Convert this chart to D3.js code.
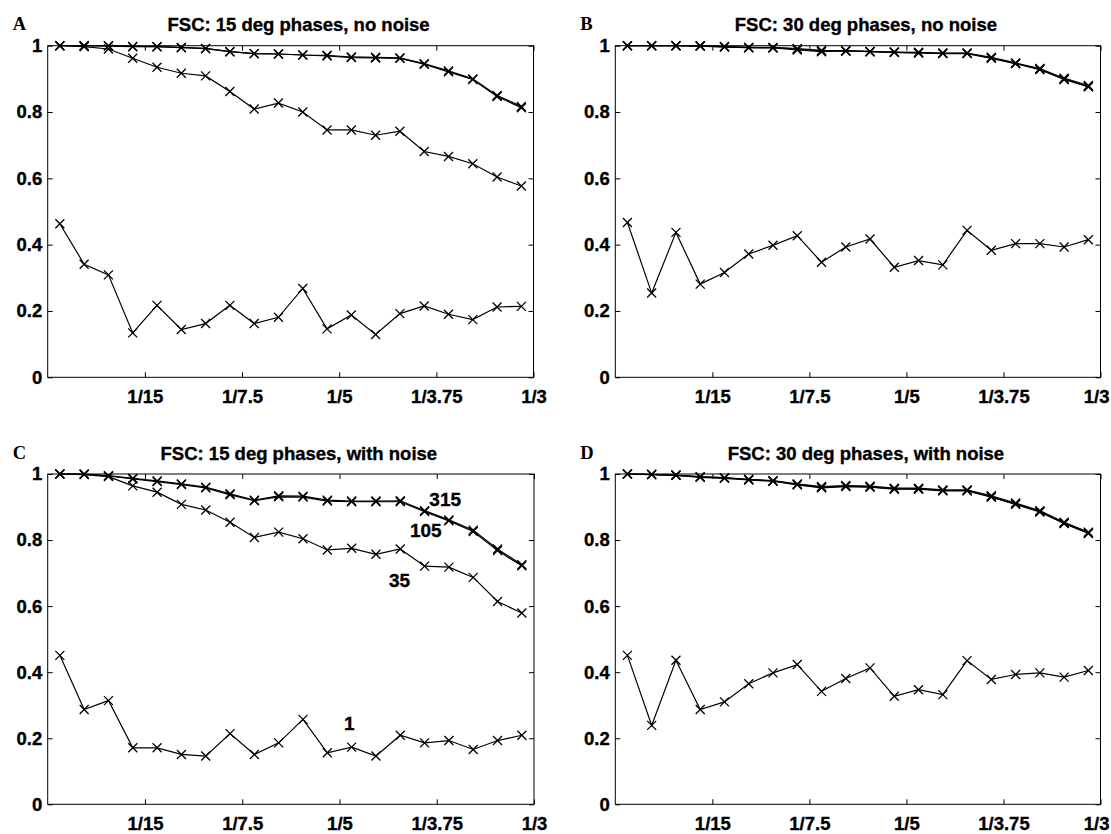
<!DOCTYPE html>
<html>
<head>
<meta charset="utf-8">
<script src="https://cdn.jsdelivr.net/npm/d3@7"></script>
<style>
    body { margin: 0; background: #fff; }
    svg { display: block; }
    .tick text, .title, .curve-label { font-family: "Liberation Sans", Arial, Helvetica, sans-serif; font-weight: bold; fill: #000; stroke: #000; stroke-width: 0.35px; }
    .letter { font-family: "Liberation Serif", "Times New Roman", serif; font-weight: bold; font-size: 18.5px; fill: #000; }
</style>
</head>
<body>
<svg width="1111" height="834"></svg>
<script>
// spatial frequency of each ring (cycles / pixel)
var freq = [0.00833, 0.025, 0.04167, 0.05833, 0.075, 0.09167, 0.10833, 0.125, 0.14167, 0.15833,
            0.175, 0.19167, 0.20833, 0.225, 0.24167, 0.25833, 0.275, 0.29167, 0.30833, 0.325];

var xTicks = [1 / 15, 1 / 7.5, 1 / 5, 1 / 3.75, 1 / 3];
var xTickLabels = ["1/15", "1/7.5", "1/5", "1/3.75", "1/3"];
var yTicks = [0, 0.2, 0.4, 0.6, 0.8, 1];
var yTickLabels = ["0", "0.2", "0.4", "0.6", "0.8", "1"];

// A: 15 deg phases, no noise
var a315 = [1, 1, 1, 0.998, 0.997, 0.995, 0.992, 0.982, 0.976, 0.975, 0.972, 0.971, 0.966, 0.965, 0.963, 0.946, 0.924, 0.9, 0.85, 0.817];
var a105 = [1, 1, 0.999, 0.997, 0.997, 0.994, 0.991, 0.982, 0.976, 0.975, 0.972, 0.969, 0.964, 0.963, 0.962, 0.944, 0.921, 0.898, 0.847, 0.813];
var a35 = [1, 0.997, 0.99, 0.962, 0.935, 0.917, 0.909, 0.862, 0.809, 0.827, 0.8, 0.746, 0.746, 0.73, 0.742, 0.681, 0.666, 0.644, 0.604, 0.577];
var a1 = [0.463, 0.341, 0.309, 0.134, 0.217, 0.144, 0.162, 0.217, 0.162, 0.181, 0.268, 0.146, 0.188, 0.129, 0.192, 0.215, 0.19, 0.174, 0.212, 0.214];

// B: 30 deg phases, no noise
var b315 = [1, 1, 1, 1, 0.998, 0.995, 0.995, 0.991, 0.986, 0.985, 0.983, 0.981, 0.98, 0.978, 0.978, 0.965, 0.948, 0.931, 0.902, 0.88];
var b105 = [1, 1, 1, 0.999, 0.997, 0.994, 0.994, 0.99, 0.984, 0.984, 0.982, 0.98, 0.978, 0.977, 0.977, 0.963, 0.946, 0.929, 0.898, 0.877];
var b35 = [1, 1, 1, 0.999, 0.996, 0.994, 0.993, 0.987, 0.982, 0.984, 0.982, 0.98, 0.978, 0.976, 0.976, 0.962, 0.946, 0.928, 0.899, 0.876];
var b1 = [0.467, 0.254, 0.437, 0.281, 0.316, 0.372, 0.398, 0.427, 0.347, 0.393, 0.417, 0.332, 0.352, 0.339, 0.443, 0.383, 0.403, 0.403, 0.393, 0.415];

// C: 15 deg phases, with noise
var c315 = [1, 1, 0.995, 0.987, 0.979, 0.97, 0.96, 0.94, 0.921, 0.934, 0.933, 0.921, 0.918, 0.918, 0.919, 0.889, 0.861, 0.83, 0.773, 0.725];
var c105 = [1, 0.999, 0.994, 0.985, 0.977, 0.968, 0.958, 0.937, 0.919, 0.931, 0.93, 0.918, 0.916, 0.916, 0.916, 0.886, 0.858, 0.826, 0.768, 0.722];
var c35 = [1, 0.998, 0.992, 0.964, 0.945, 0.908, 0.891, 0.854, 0.808, 0.824, 0.804, 0.77, 0.775, 0.757, 0.773, 0.721, 0.718, 0.687, 0.614, 0.579];
var c1 = [0.451, 0.287, 0.314, 0.171, 0.171, 0.151, 0.146, 0.214, 0.151, 0.186, 0.257, 0.156, 0.173, 0.146, 0.209, 0.186, 0.193, 0.166, 0.193, 0.209];

// D: 30 deg phases, with noise
var d315 = [1, 0.999, 0.997, 0.992, 0.989, 0.984, 0.98, 0.97, 0.962, 0.965, 0.963, 0.957, 0.957, 0.952, 0.952, 0.934, 0.912, 0.889, 0.854, 0.824];
var d105 = [1, 0.998, 0.996, 0.991, 0.988, 0.983, 0.979, 0.968, 0.96, 0.963, 0.961, 0.955, 0.955, 0.95, 0.95, 0.931, 0.909, 0.886, 0.851, 0.821];
var d35 = [1, 0.998, 0.996, 0.99, 0.987, 0.982, 0.978, 0.967, 0.958, 0.962, 0.96, 0.954, 0.954, 0.949, 0.949, 0.93, 0.908, 0.885, 0.85, 0.82];
var d1 = [0.451, 0.239, 0.436, 0.287, 0.31, 0.365, 0.398, 0.423, 0.342, 0.381, 0.413, 0.327, 0.347, 0.332, 0.435, 0.378, 0.393, 0.398, 0.385, 0.405];

// number labels in panel C (data coords)
var cLabels = ["315", "105", "35", "1"];
var cLabelFreq = [0.2616, 0.2483, 0.2339, 0.2031];
var cLabelFsc = [0.903, 0.81, 0.659, 0.225];

var panels = [
    {letter: "A", title: "FSC: 15 deg phases, no noise", series: [a1, a35, a105, a315], x0: 47.7, x1: 533.5, y0: 45.7, y1: 377.3},
    {letter: "B", title: "FSC: 30 deg phases, no noise", series: [b1, b35, b105, b315], x0: 615.3, x1: 1100.5, y0: 45.7, y1: 377.3},
    {letter: "C", title: "FSC: 15 deg phases, with noise", series: [c1, c35, c105, c315], x0: 47.7, x1: 534, y0: 474, y1: 804.3, labels: true},
    {letter: "D", title: "FSC: 30 deg phases, with noise", series: [d1, d35, d105, d315], x0: 615.3, x1: 1100.5, y0: 474, y1: 804.3}
];

var svg = d3.select("svg");
var W = +svg.attr("width");
var cross = "M-4.5,-4.5L4.5,4.5M-4.5,4.5L4.5,-4.5";

panels.forEach(function (p) {
    var x = d3.scaleLinear().domain([0, 1 / 3]).range([p.x0, p.x1]);
    var y = d3.scaleLinear().domain([0, 1]).range([p.y1, p.y0]);
    var g = svg.append("g");

    // inward ticks on all four sides
    g.append("g").attr("class", "xaxis").attr("transform", "translate(0," + p.y1 + ")")
        .call(d3.axisBottom(x).tickValues(xTicks).tickFormat(function (d, i) { return xTickLabels[i]; })
            .tickSize(-5).tickPadding(13));
    g.append("g").attr("transform", "translate(0," + p.y0 + ")")
        .call(d3.axisTop(x).tickValues(xTicks).tickFormat("").tickSize(-5));
    g.append("g").attr("transform", "translate(" + p.x0 + ",0)")
        .call(d3.axisLeft(y).tickValues(yTicks).tickFormat(function (d, i) { return yTickLabels[i]; })
            .tickSize(-5).tickPadding(5.5));
    g.append("g").attr("transform", "translate(" + p.x1 + ",0)")
        .call(d3.axisRight(y).tickValues(yTicks).tickFormat("").tickSize(-5));

    g.selectAll(".domain").remove();
    g.selectAll(".tick line").attr("stroke", "#000").attr("stroke-width", 1);
    g.selectAll(".tick text").style("font-size", "18.5px");

    // keep the right-most tick label inside the page
    g.selectAll(".xaxis .tick text").each(function (d) {
        var bb = this.getBBox();
        var right = x(d) + bb.x + bb.width;
        if (right > W - 2) d3.select(this).attr("x", (W - 2) - right);
    });

    g.append("rect")
        .attr("x", p.x0).attr("y", p.y0)
        .attr("width", p.x1 - p.x0).attr("height", p.y1 - p.y0)
        .attr("fill", "none").attr("stroke", "#000").attr("stroke-width", 1);

    var line = d3.line()
        .x(function (d, i) { return x(freq[i]); })
        .y(function (d) { return y(d); });

    p.series.forEach(function (s) {
        g.append("path")
            .datum(s)
            .attr("d", line)
            .attr("fill", "none")
            .attr("stroke", "#000")
            .attr("stroke-width", 1.2);
        g.selectAll(null)
            .data(s)
            .enter().append("path")
            .attr("d", cross)
            .attr("transform", function (d, i) { return "translate(" + x(freq[i]) + "," + y(d) + ")"; })
            .attr("fill", "none")
            .attr("stroke", "#000")
            .attr("stroke-width", 1.3);
    });

    g.append("text")
        .attr("class", "title")
        .attr("x", (p.x0 + p.x1) / 2 + 8)
        .attr("y", p.y0 - 14.5)
        .attr("text-anchor", "middle")
        .style("font-size", "18.5px")
        .text(p.title);

    g.append("text")
        .attr("class", "letter")
        .attr("x", p.x0 - 35)
        .attr("y", p.y0 - 15.5)
        .text(p.letter);

    if (p.labels) {
        g.selectAll(null)
            .data(cLabels)
            .enter().append("text")
            .attr("class", "curve-label")
            .attr("x", function (d, i) { return x(cLabelFreq[i]); })
            .attr("y", function (d, i) { return y(cLabelFsc[i]); })
            .style("font-size", "19px")
            .text(function (d) { return d; });
    }
});
</script>
</body>
</html>
